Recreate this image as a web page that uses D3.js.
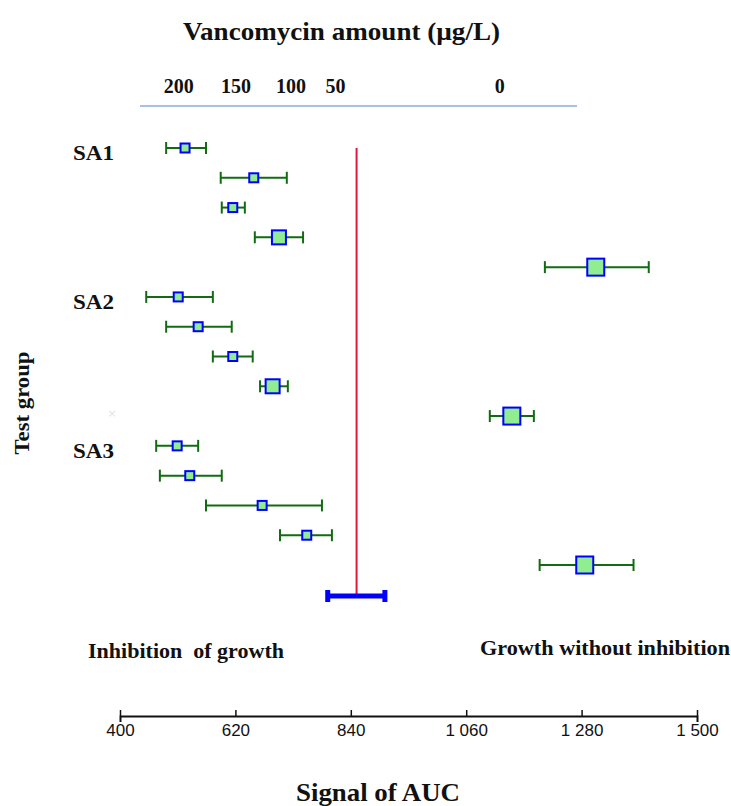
<!DOCTYPE html>
<html>
<head>
<meta charset="utf-8">
<script src="https://cdn.jsdelivr.net/npm/d3@7"></script>
<style>
  body { margin: 0; background: #fff; }
  svg { display: block; }
  .serif { font-family: "Liberation Serif", "DejaVu Serif", serif; font-weight: bold; fill: #111; }
  .x.axis text { font-family: "Liberation Sans", Arial, sans-serif; font-size: 17px; fill: #111; }
</style>
</head>
<body>
<svg id="chart" width="731" height="806"></svg>
<script>
// signal of AUC per test row (5 concentrations per group, 3 groups)
var groups = ['SA1', 'SA2', 'SA3'];
var means = [524, 655, 615, 703, 1307,
             511, 549, 615, 691, 1147,
             509, 533, 671, 756, 1286];
var lows  = [488, 592, 594, 657, 1210,
             450, 488, 577, 667, 1105,
             469, 476, 564, 705, 1200];
var highs = [564, 718, 638, 749, 1408,
             577, 613, 653, 720, 1189,
             549, 594, 785, 804, 1379];
// marker weight class (1 small, 2 medium, 3 large)
var weights = [1, 1, 1, 2, 3,
               1, 1, 1, 2, 3,
               1, 1, 1, 1, 3];
var xTicks = [400, 620, 840, 1060, 1280, 1500];
// top vancomycin labels and where they sit on the AUC scale
var vancoLabels = ['200', '150', '100', '50', '0'];
var vancoAt = [512, 621, 726, 811, 1124];
var cutoff = 851;
var cutoffLow = 796, cutoffHigh = 905;

(function() {
    var svg = d3.select('#chart');
    var x = d3.scaleLinear().domain([400, 1500]).range([120, 697]);
    var rows = d3.range(means.length);
    var y = d3.scalePoint().domain(rows).range([148, 565]);
    var size = d3.scaleOrdinal().domain([1, 2, 3]).range([9, 14, 17]);
    var green = '#126b12';

    // titles
    svg.append('text').attr('class', 'serif')
        .attr('x', 183).attr('y', 40)
        .attr('textLength', 317).attr('lengthAdjust', 'spacingAndGlyphs')
        .style('font-size', '26px')
        .text('Vancomycin amount (\u00b5g/L)');

    svg.selectAll('.vanco')
        .data(vancoLabels)
        .enter().append('text')
        .attr('class', 'serif vanco')
        .attr('x', function(d, i) { return x(vancoAt[i]); })
        .attr('y', 93)
        .attr('text-anchor', 'middle')
        .style('font-size', '20px')
        .text(function(d) { return d; });

    svg.append('line')
        .attr('x1', 140).attr('x2', 577)
        .attr('y1', 106).attr('y2', 106)
        .attr('stroke', '#8eaadb')
        .attr('stroke-width', 1.5);

    // group labels
    svg.selectAll('.grp')
        .data(groups)
        .enter().append('text')
        .attr('class', 'serif grp')
        .attr('x', 73)
        .attr('y', function(d, i) { return y(i * 5) + 12; })
        .attr('textLength', 41).attr('lengthAdjust', 'spacingAndGlyphs')
        .style('font-size', '21px')
        .text(function(d) { return d; });

    svg.append('text').attr('class', 'serif')
        .attr('transform', 'translate(29,403) rotate(-90)')
        .attr('text-anchor', 'middle')
        .attr('textLength', 103).attr('lengthAdjust', 'spacingAndGlyphs')
        .style('font-size', '21px')
        .text('Test group');

    svg.append('text')
        .attr('x', 112).attr('y', 417)
        .attr('text-anchor', 'middle')
        .style('font-family', 'DejaVu Sans, sans-serif')
        .style('font-size', '11px')
        .attr('fill', '#e4e4e4')
        .text('\u00d7');

    // cutoff line
    svg.append('line')
        .attr('x1', x(cutoff)).attr('x2', x(cutoff))
        .attr('y1', 148).attr('y2', 596)
        .attr('stroke', '#e0163e')
        .attr('stroke-width', 2);

    var cy = 596;
    svg.append('line')
        .attr('x1', x(cutoffLow)).attr('x2', x(cutoffHigh))
        .attr('y1', cy).attr('y2', cy)
        .attr('stroke', '#0000ff').attr('stroke-width', 5);
    [cutoffLow, cutoffHigh].forEach(function(v) {
        svg.append('rect')
            .attr('x', x(v) - 2.5).attr('y', cy - 6)
            .attr('width', 5).attr('height', 12)
            .attr('fill', '#0000ff');
    });

    // error bars
    var g = svg.append('g');
    var bar = g.selectAll('.row')
        .data(rows)
        .enter().append('g')
        .attr('class', 'row');

    bar.append('line')
        .attr('x1', function(i) { return x(lows[i]); })
        .attr('x2', function(i) { return x(highs[i]); })
        .attr('y1', function(i) { return y(i); })
        .attr('y2', function(i) { return y(i); })
        .attr('stroke', green).attr('stroke-width', 2);

    bar.append('line')
        .attr('x1', function(i) { return x(lows[i]); })
        .attr('x2', function(i) { return x(lows[i]); })
        .attr('y1', function(i) { return y(i) - 6; })
        .attr('y2', function(i) { return y(i) + 6; })
        .attr('stroke', green).attr('stroke-width', 2);

    bar.append('line')
        .attr('x1', function(i) { return x(highs[i]); })
        .attr('x2', function(i) { return x(highs[i]); })
        .attr('y1', function(i) { return y(i) - 6; })
        .attr('y2', function(i) { return y(i) + 6; })
        .attr('stroke', green).attr('stroke-width', 2);

    bar.append('rect')
        .attr('x', function(i) { return x(means[i]) - size(weights[i]) / 2; })
        .attr('y', function(i) { return y(i) - size(weights[i]) / 2; })
        .attr('width', function(i) { return size(weights[i]); })
        .attr('height', function(i) { return size(weights[i]); })
        .attr('fill', '#90ee90')
        .attr('stroke', '#0000ff')
        .attr('stroke-width', 2);

    // annotations
    svg.append('text').attr('class', 'serif')
        .attr('x', 88).attr('y', 658)
        .attr('textLength', 196).attr('lengthAdjust', 'spacingAndGlyphs')
        .style('font-size', '21px')
        .style('white-space', 'pre')
        .text('Inhibition  of growth');

    svg.append('text').attr('class', 'serif')
        .attr('x', 480).attr('y', 655)
        .attr('textLength', 250).attr('lengthAdjust', 'spacingAndGlyphs')
        .style('font-size', '21px')
        .text('Growth without inhibition');

    // bottom axis
    var fmt = function(d) { return d3.format(',')(d).replace(',', ' '); };
    svg.append('g')
        .attr('class', 'x axis')
        .attr('transform', 'translate(0,716)')
        .call(d3.axisBottom(x).tickValues(xTicks).tickFormat(fmt).tickSizeOuter(0).tickSize(6).tickPadding(6))
        .call(function(a) {
            a.select('.domain').attr('stroke', '#111').attr('stroke-width', 2);
            a.selectAll('.tick line').attr('stroke', '#111').attr('stroke-width', 1.5).attr('y1', -6).attr('y2', 0);
            a.selectAll('.tick text').attr('y', 8);
        });

    svg.append('text').attr('class', 'serif')
        .attr('x', 296).attr('y', 801)
        .attr('textLength', 164).attr('lengthAdjust', 'spacingAndGlyphs')
        .style('font-size', '26px')
        .text('Signal of AUC');
})();
</script>
</body>
</html>
